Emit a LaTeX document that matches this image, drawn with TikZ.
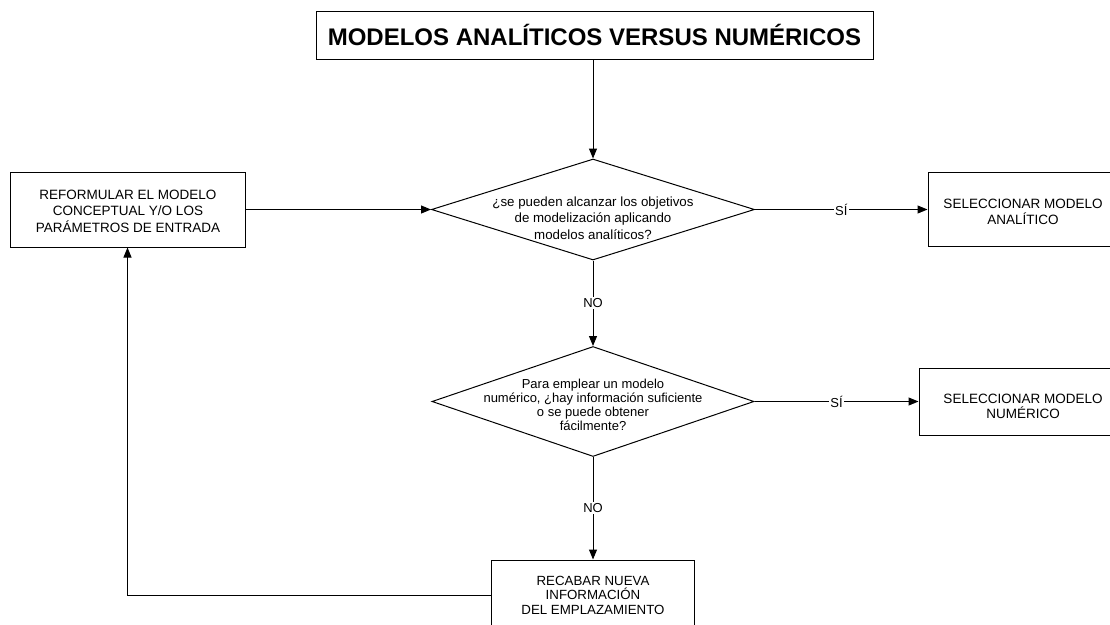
\documentclass[tikz,border=0pt]{standalone}
\usepackage{fontspec}
\setmainfont{Liberation Sans}
\usetikzlibrary{shapes.geometric,arrows.meta}
\tikzset{
  base/.style={line width=1pt, draw=black, text=black},
  titlebox/.style={base, rectangle, inner sep=0pt, font=\bfseries\fontsize{24}{28}\selectfont},
  procbox/.style={base, rectangle, inner sep=0pt, align=center, font=\fontsize{13.3}{16.5}\selectfont},
  emptybox/.style={base, rectangle, inner sep=0pt},
  boxtext/.style={align=center, inner sep=0pt, font=\fontsize{13.5}{16.5}\selectfont},
  dia/.style={base, diamond, inner sep=0pt},
  diatext/.style={align=center, inner sep=0pt},
  conn/.style={line width=1pt, -{Triangle[length=10pt,width=8pt]}},
  lbl/.style={fill=white, inner sep=1.5pt, font=\fontsize{13}{15}\selectfont}
}
\begin{document}
\begin{tikzpicture}[x=1pt,y=-1pt]
\useasboundingbox (0,0) rectangle (1110,624);
\clip (0,0) rectangle (1110,624);
\fill[white] (0,0) rectangle (1110,624);

\node[titlebox, minimum width=557pt, minimum height=48pt] (title) at (594.5,35) {MODELOS ANALÍTICOS VERSUS NUMÉRICOS};

\node[procbox, minimum width=235pt, minimum height=75pt] (ref) at (127.5,209.5) {};
\node[boxtext] (reft) at (128,211) {REFORMULAR EL MODELO\\CONCEPTUAL Y/O LOS\\PARÁMETROS DE ENTRADA};

\node[dia, minimum width=323pt, minimum height=101pt] (d1) at (593,209.5) {};
\node[diatext, font=\fontsize{13.3}{16.3}\selectfont] (d1t) at (593,218) {¿se pueden alcanzar los objetivos\\de modelización aplicando\\modelos analíticos?};

\node[emptybox, minimum width=184pt, minimum height=74pt] (ana) at (1020,209.5) {};
\node[boxtext] (anat) at (1023,212) {SELECCIONAR MODELO\\ANALÍTICO};

\node[dia, minimum width=322pt, minimum height=110pt] (d2) at (593,401.5) {};
\node[diatext, font=\fontsize{13}{14}\selectfont] (d2t) at (593,405) {Para emplear un modelo\\numérico, ¿hay información suficiente\\o se puede obtener\\fácilmente?};

\node[emptybox, minimum width=198pt, minimum height=67pt] (num) at (1018,401.5) {};
\node[boxtext, font=\fontsize{13.5}{15.5}\selectfont] (numt) at (1023,406.5) {SELECCIONAR MODELO\\NUMÉRICO};

\node[procbox, font=\fontsize{13.3}{14.5}\selectfont, minimum width=203pt, minimum height=70pt] (rec) at (593,595) {RECABAR NUEVA\\INFORMACIÓN\\DEL EMPLAZAMIENTO};

\draw[conn] (d1.north |- title.south) -- (d1.north);
\draw[conn] (ref.east) -- (d1.west);
\draw[conn] (d1.east) -- node[lbl] (s1) {SÍ} (ana.west);
\draw[conn] (d1.south) -- node[lbl] (n1) {NO} (d2.north);
\draw[conn] (d2.east) -- node[lbl] (s2) {SÍ} (num.west);
\draw[conn] (d2.south) -- node[lbl] (n2) {NO} (rec.north);
\draw[conn] (rec.west) -| (ref.south);
\end{tikzpicture}
\end{document}
